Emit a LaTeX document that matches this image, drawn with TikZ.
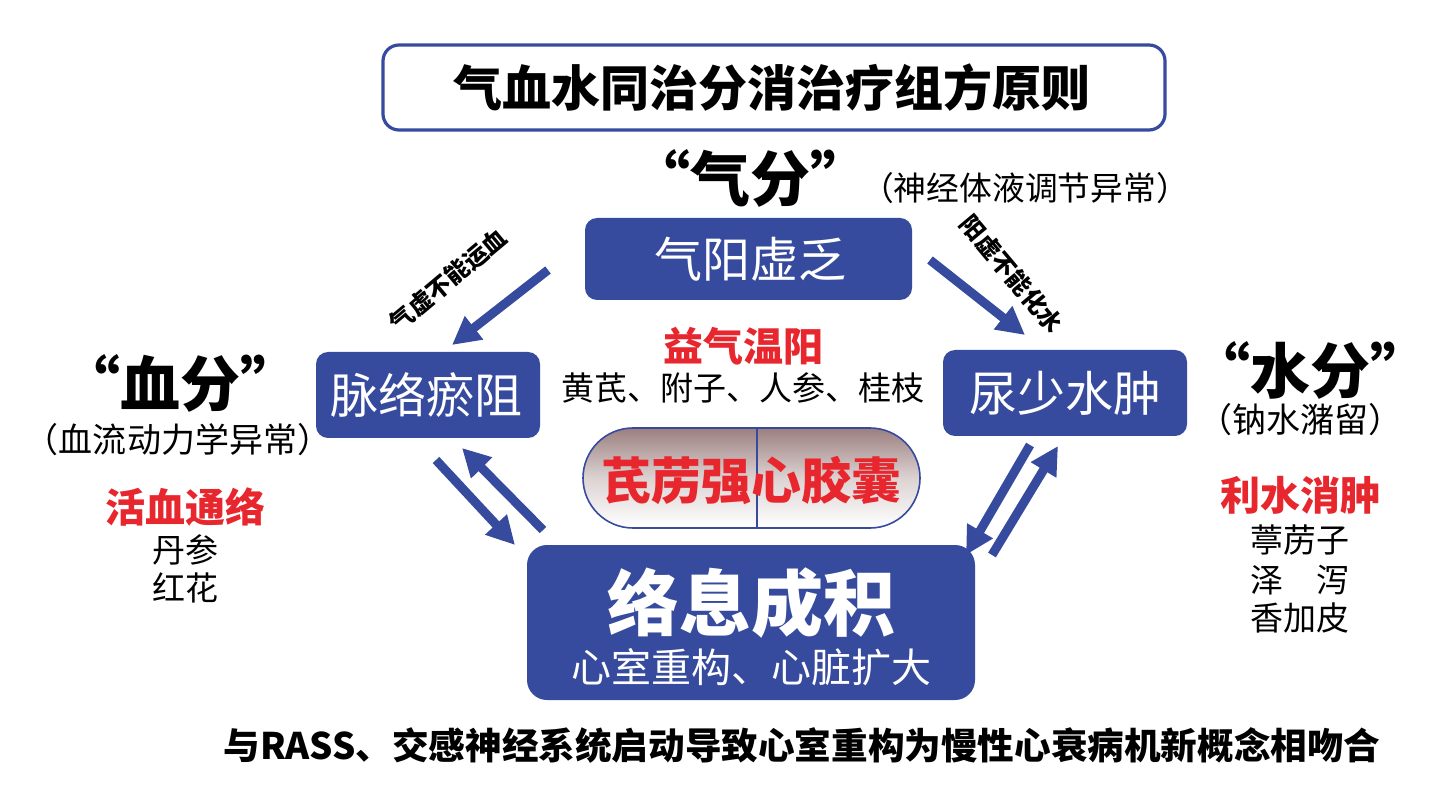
\documentclass[tikz,border=0pt]{standalone}
\usepackage{fontspec}
\setmainfont{Noto Sans CJK SC}
\usetikzlibrary{arrows.meta}
\definecolor{bl}{HTML}{364A9E}
\definecolor{rd}{HTML}{E8262E}
\definecolor{capd}{HTML}{9C7F7F}
\begin{document}
\begin{tikzpicture}[x=0.5pt,y=-0.5pt,
  ar/.style={draw=bl,line width=4.5pt,-{Triangle[length=14pt,width=14pt]}},
  fs/.style={font=\fontsize{#1}{#1}\selectfont},
  fb/.style={font=\fontsize{#1}{#1}\selectfont\bfseries}]
\useasboundingbox (0,0) rectangle (1449,801);
\fill[white] (0,0) rectangle (1449,801);
\draw[bl,line width=1.6pt,rounded corners=8pt] (383,45) rectangle (1165,130);
\node[fb=24.5pt] (title) at (772,88) {气血水同治分消治疗组方原则};
\node[fb=30pt] (qf) at (750,178) {“气分”};
\node[fs=16.4pt] (qfn) at (1025,188) {（神经体液调节异常）};
\fill[bl,rounded corners=6pt] (585,218) rectangle (912,300);
\node[fs=24pt,text=white] (qy) at (750,259) {气阳虚乏};
\fill[bl,rounded corners=6pt] (316,352) rectangle (540,438);
\node[fs=24pt,text=white] (ml) at (426,395) {脉络瘀阻};
\fill[bl,rounded corners=6pt] (943,350) rectangle (1187,436);
\node[fs=24pt,text=white] (ns) at (1065,393) {尿少水肿};
\node[fb=20pt,text=rd] (yq) at (743,346) {益气温阳};
\node[fs=16.5pt] (hq) at (743,388) {黄芪、附子、人参、桂枝};
\shade[top color=capd,bottom color=white,middle color=capd!35,rounded corners=25pt]
  (583,428) rectangle (920,528);
\draw[bl,line width=0.8pt,rounded corners=25pt] (583,428) rectangle (920,528);
\draw[bl,line width=0.8pt] (757,428) -- (757,528);
\node[fb=25pt,text=rd] (cap) at (751,480) {芪苈强心胶囊};
\fill[bl,rounded corners=10pt] (527,545) rectangle (975,700);
\node[fb=36pt,text=white] (lx) at (751,603) {络息成积};
\node[fs=20pt,text=white] (xs) at (751,667) {心室重构、心脏扩大};
\node[fb=30pt] (xf) at (180,383) {“血分”};
\node[fs=17pt] (xfn) at (178,440) {（血流动力学异常）};
\node[fb=20pt,text=rd] (hx) at (185,507) {活血通络};
\node[fs=16.5pt] (ds) at (185,550) {丹参};
\node[fs=16.5pt] (hh) at (185,588) {红花};
\node[fb=30pt] (sf) at (1310,370) {“水分”};
\node[fs=17pt] (sfn) at (1300,420) {（钠水潴留）};
\node[fb=20pt,text=rd] (ls) at (1300,495) {利水消肿};
\node[fs=16.5pt] (tl) at (1300,540) {葶苈子};
\node[fs=16.5pt] (zx) at (1300,580) {泽\quad 泻};
\node[fs=16.5pt] (xj) at (1300,618) {香加皮};
\node[fb=18.3pt] (bt) at (802,745) {与RASS、交感神经系统启动导致心室重构为慢性心衰病机新概念相吻合};
\coordinate (a1) at (548,270); \coordinate (a2) at (452,345);
\coordinate (b1) at (930,260); \coordinate (b2) at (1025,335);
\coordinate (c1) at (436,460); \coordinate (c2) at (515,545);
\coordinate (d1) at (543,530); \coordinate (d2) at (462,448);
\coordinate (e1) at (1030,445); \coordinate (e2) at (966,555);
\coordinate (f1) at (992,555); \coordinate (f2) at (1058,446);
\draw[ar] (a1) -- (a2); \draw[ar] (b1) -- (b2);
\draw[ar] (c1) -- (c2); \draw[ar] (d1) -- (d2);
\draw[ar] (e1) -- (e2); \draw[ar] (f1) -- (f2);
\node[fb=12pt,rotate=40] (la) at (448,280) {气虚不能运血};
\node[fb=12pt,rotate=-50] (lb) at (1012,274) {阳虚不能化水};
\end{tikzpicture}
\end{document}
